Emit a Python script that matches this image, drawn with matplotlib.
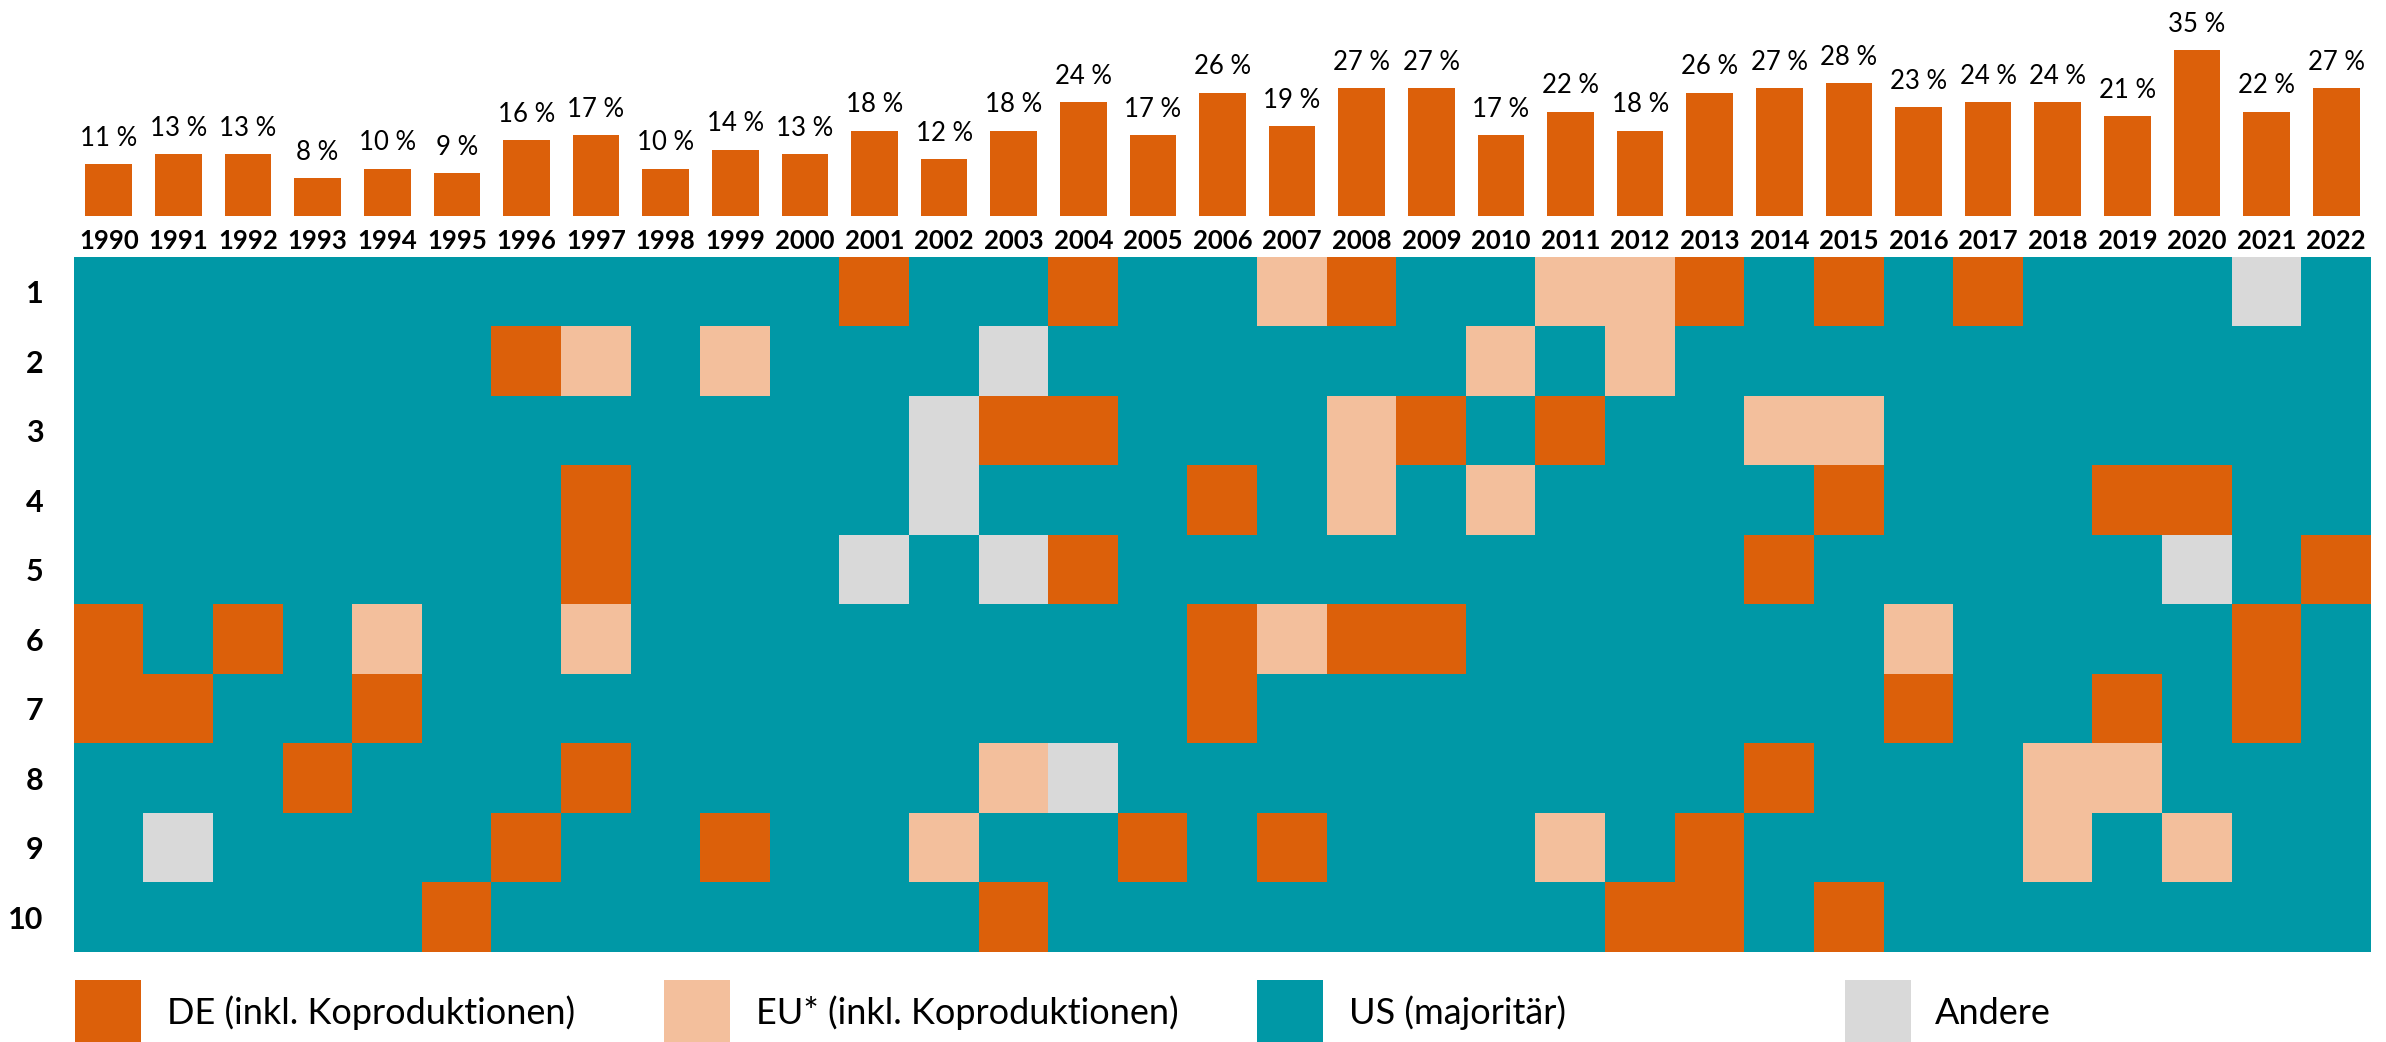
import matplotlib
matplotlib.use("Agg")
import matplotlib.pyplot as plt
from matplotlib.colors import ListedColormap
from matplotlib.patches import Rectangle
import numpy as np

plt.rcParams['font.family'] = ['Lato', 'DejaVu Sans']

years = list(range(1990, 2023))
shares = [11, 13, 13, 8, 10, 9, 16, 17, 10, 14, 13, 18, 12, 18, 24, 17, 26, 19,
          27, 27, 17, 22, 18, 26, 27, 28, 23, 24, 24, 21, 35, 22, 27]
ranks = [str(i) for i in range(1, 11)]
# D = DE, E = EU, U = US, A = Andere
grid_rows = [
    "UUUUUUUUUU" "UDUUDUUEDU" "UEEDUDUDUU" "UAU",
    "UUUUUUDEUE" "UUUAUUUUUU" "EUEUUUUUUU" "UUU",
    "UUUUUUUUUU" "UUADDUUUED" "UDUUEEUUUU" "UUU",
    "UUUUUUUDUU" "UUAUUUDUEU" "EUUUUDUUUD" "DUU",
    "UUUUUUUDUU" "UAUADUUUUU" "UUUUDUUUUU" "AUD",
    "DUDUEUUEUU" "UUUUUUDEDD" "UUUUUUEUUU" "UDU",
    "DDUUDUUUUU" "UUUUUUDUUU" "UUUUUUDUUD" "UDU",
    "UUUDUUUDUU" "UUUEAUUUUU" "UUUUDUUUEE" "UUU",
    "UAUUUUDUUD" "UUEUUDUDUU" "UEUDUUUUEU" "EUU",
    "UUUUUDUUUU" "UUUDUUUUUU" "UUDDUDUUUU" "UUU",
]
categories = ["D", "E", "U", "A"]
legend_labels = ["DE (inkl. Koproduktionen)", "EU* (inkl. Koproduktionen)",
                 "US (majoritär)", "Andere"]
colors = ["#DC600A", "#F3BF9C", "#0098A6", "#D9D9D9"]

W, H = 2386, 1042
fig = plt.figure(figsize=(W / 100, H / 100), dpi=100)

left, right = 74, 2371
hm_top, hm_bot = 257, 952
bar_base = 216
px_per_pct = 4.75

# heatmap
ax = fig.add_axes([left / W, (H - hm_bot) / H, (right - left) / W, (hm_bot - hm_top) / H])
codes = np.array([[categories.index(c) for c in row] for row in grid_rows])
ax.imshow(codes, cmap=ListedColormap(colors), vmin=-0.5, vmax=3.5,
          aspect='auto', interpolation='nearest')
ax.set_xlim(-0.5, len(years) - 0.5)
ax.set_ylim(len(ranks) - 0.5, -0.5)
ax.set_yticks(range(len(ranks)))
ax.set_yticklabels(ranks, fontsize=22, fontweight='bold')
ax.tick_params(axis='y', length=0, pad=22)
ax.set_xticks([])
for s in ax.spines.values():
    s.set_visible(False)

# bar chart
bx = fig.add_axes([left / W, (H - bar_base) / H, (right - left) / W, bar_base / H])
x = np.arange(len(years))
bx.bar(x, shares, width=0.67, color=colors[0])
bx.set_xlim(-0.5, len(years) - 0.5)
bx.set_ylim(0, bar_base / px_per_pct)
bx.axis('off')
for xi, v in zip(x, shares):
    bx.annotate(f"{v} %", (xi, v), xytext=(0, 13), textcoords='offset points',
                ha='center', va='baseline', fontsize=18.5)
for xi, yr in zip(x, years):
    bx.annotate(str(yr), (xi, 0), xytext=(0, -18), textcoords='offset points',
                ha='center', va='center', fontsize=18.5, fontweight='bold')

# legend
sq_x = [75, 664, 1257, 1845]
txt_x = [167, 756, 1349, 1935]
sq_w = 66
for sx, tx, lab, col in zip(sq_x, txt_x, legend_labels, colors):
    fig.add_artist(Rectangle((sx / W, 0), sq_w / W, 62 / H, transform=fig.transFigure,
                             facecolor=col, edgecolor='none'))
    fig.text(tx / W, (H - 1013) / H, lab, ha='left', va='center', fontsize=26)

fig.savefig("out.png", dpi=100)
